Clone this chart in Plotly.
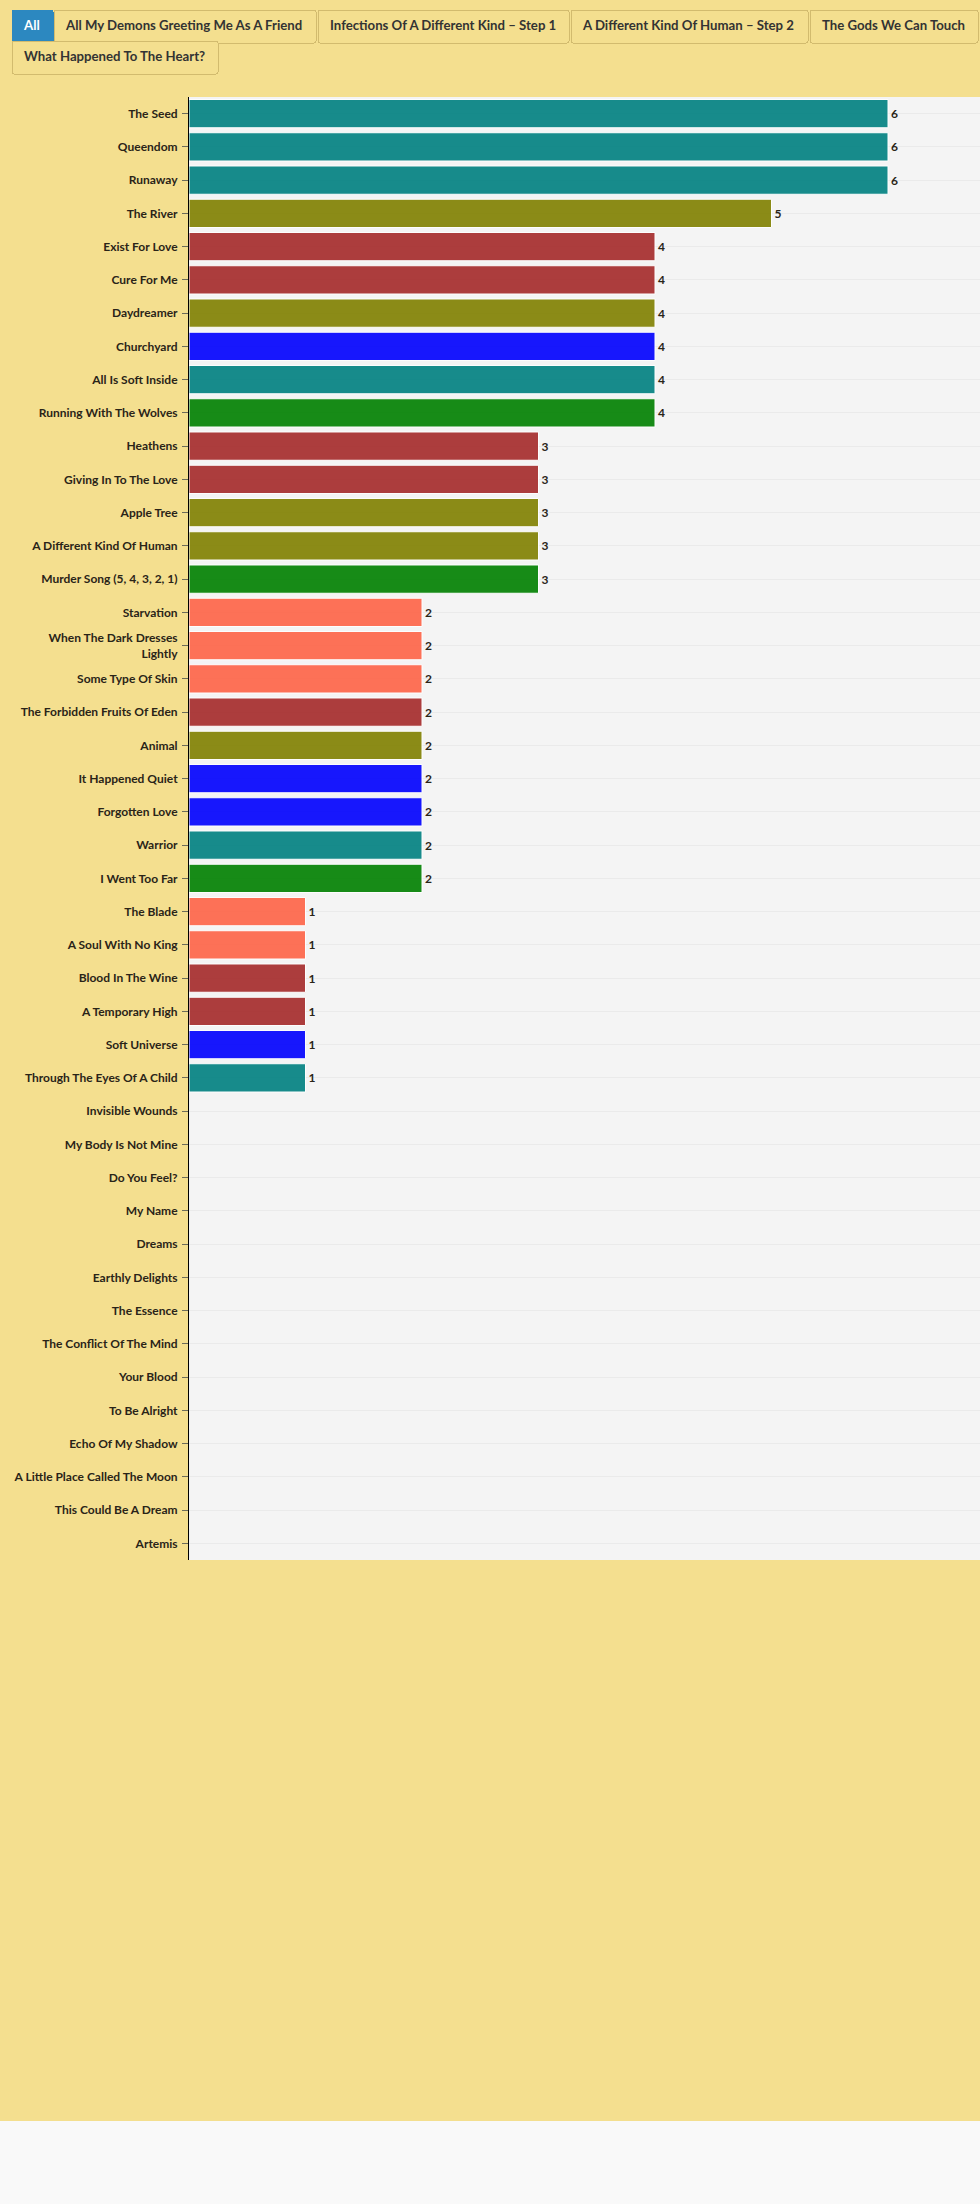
import plotly.graph_objects as go

songs = [
    "The Seed", "Queendom", "Runaway", "The River", "Exist For Love", "Cure For Me",
    "Daydreamer", "Churchyard", "All Is Soft Inside", "Running With The Wolves",
    "Heathens", "Giving In To The Love", "Apple Tree", "A Different Kind Of Human",
    "Murder Song (5, 4, 3, 2, 1)", "Starvation", "When The Dark Dresses<br>Lightly",
    "Some Type Of Skin", "The Forbidden Fruits Of Eden", "Animal", "It Happened Quiet",
    "Forgotten Love", "Warrior", "I Went Too Far", "The Blade", "A Soul With No King",
    "Blood In The Wine", "A Temporary High", "Soft Universe", "Through The Eyes Of A Child",
    "Invisible Wounds", "My Body Is Not Mine", "Do You Feel?", "My Name", "Dreams",
    "Earthly Delights", "The Essence", "The Conflict Of The Mind", "Your Blood",
    "To Be Alright", "Echo Of My Shadow", "A Little Place Called The Moon",
    "This Could Be A Dream", "Artemis",
]
counts = [6, 6, 6, 5, 4, 4, 4, 4, 4, 4, 3, 3, 3, 3, 3, 2, 2, 2, 2, 2, 2, 2, 2, 2,
          1, 1, 1, 1, 1, 1, 0, 0, 0, 0, 0, 0, 0, 0, 0, 0, 0, 0, 0, 0]
groups = [
    "Multiple", "Multiple", "Multiple", "ADKOH2", "TGWCT", "TGWCT", "ADKOH2", "IOADK1",
    "Multiple", "AMD", "TGWCT", "TGWCT", "ADKOH2", "ADKOH2", "AMD", "WHTTH", "WHTTH",
    "WHTTH", "TGWCT", "ADKOH2", "IOADK1", "IOADK1", "Multiple", "AMD", "WHTTH", "WHTTH",
    "TGWCT", "TGWCT", "IOADK1", "Multiple",
    None, None, None, None, None, None, None, None, None, None, None, None, None, None,
]
album_buttons = [
    ("All My Demons Greeting Me As A Friend", "AMD"),
    ("Infections Of A Different Kind – Step 1", "IOADK1"),
    ("A Different Kind Of Human – Step 2", "ADKOH2"),
    ("The Gods We Can Touch", "TGWCT"),
    ("What Happened To The Heart?", "WHTTH"),
]
group_colors = {
    "Multiple": "teal", "ADKOH2": "olive", "TGWCT": "brown", "IOADK1": "blue",
    "AMD": "green", "WHTTH": "tomato",
}

FONT = "Lato"
PAPER = "#F4DF8F"
INK = "#2a2418"

fig = go.Figure()
# base trace so every song keeps its row
fig.add_trace(go.Bar(x=[0] * len(songs), y=songs, orientation="h", showlegend=False,
                     hoverinfo="skip", marker=dict(color="rgba(0,0,0,0)")))
group_order = list(group_colors.keys())
for g in group_order:
    ys = [s for s, gg in zip(songs, groups) if gg == g]
    xs = [c for c, gg in zip(counts, groups) if gg == g]
    fig.add_trace(go.Bar(
        x=xs, y=ys, orientation="h", name=g, showlegend=False,
        marker=dict(color=group_colors[g], opacity=0.9, line=dict(color="white", width=1)),
        text=[str(v) if v > 0 else "" for v in xs], textposition="outside",
        textfont=dict(family=FONT, size=12, color=INK, weight="bold"),
        cliponaxis=False,
    ))

W, H = 980, 2121
L, R, T, B = 189, 0, 97, 561
pw, ph = W - L - R, H - T - B
unit = 116.5

def px_x(p):
    return (p - L) / pw

def px_y(p):
    return 1 + (T - p) / ph

n_tr = 1 + len(group_order)
btn_font = dict(family=FONT, size=13.2, color="#333333", weight="bold")

def vis_for(g):
    return [True] + [gg == g for gg in group_order]

menus = [
    dict(type="buttons", direction="right", showactive=False, x=px_x(11), y=px_y(9),
         xanchor="left", yanchor="top", pad=dict(l=0, r=0, t=0, b=0),
         bgcolor="#2C88C0", bordercolor="#2C88C0", borderwidth=1,
         font=dict(family=FONT, size=13.2, color="white", weight="bold"),
         buttons=[dict(label="All", method="restyle", args=[{"visible": [True] * n_tr}])]),
    dict(type="buttons", direction="right", showactive=False, x=px_x(53), y=px_y(9),
         xanchor="left", yanchor="top", pad=dict(l=0, r=0, t=0, b=0),
         bgcolor=PAPER, bordercolor="#D2BB6E", borderwidth=1, font=btn_font,
         buttons=[dict(label=lab, method="restyle", args=[{"visible": vis_for(g)}])
                  for lab, g in album_buttons[:4]]),
    dict(type="buttons", direction="right", showactive=False, x=px_x(11), y=px_y(40),
         xanchor="left", yanchor="top", pad=dict(l=0, r=0, t=0, b=0),
         bgcolor=PAPER, bordercolor="#D2BB6E", borderwidth=1, font=btn_font,
         buttons=[dict(label=lab, method="restyle", args=[{"visible": vis_for(g)}])
                  for lab, g in album_buttons[4:]]),
]

fig.update_layout(
    width=W, height=H,
    margin=dict(l=L, r=R, t=T, b=B, pad=0, autoexpand=False),
    paper_bgcolor=PAPER, plot_bgcolor="#F4F4F4",
    barmode="overlay", bargap=0.15,
    font=dict(family=FONT, color=INK),
    updatemenus=menus,
    xaxis=dict(range=[0, pw / unit], showgrid=False, zeroline=False,
               showticklabels=False, ticks=""),
    yaxis=dict(categoryorder="array", categoryarray=songs, range=[len(songs) - 0.5, -0.5],
               showline=True, linecolor="black", linewidth=1, ticks="outside", ticklen=6,
               tickcolor="#6b6b5a", showgrid=True, gridcolor="#EAEAEA", gridwidth=1,
               ticklabelstandoff=2,
               tickfont=dict(family=FONT, size=12, color=INK, weight="bold")),
)

fig.write_html(
    "out.html",
    config={"displayModeBar": False},
    post_script="document.body.style.margin='0';document.body.style.background='#F9F9F9';",
)
